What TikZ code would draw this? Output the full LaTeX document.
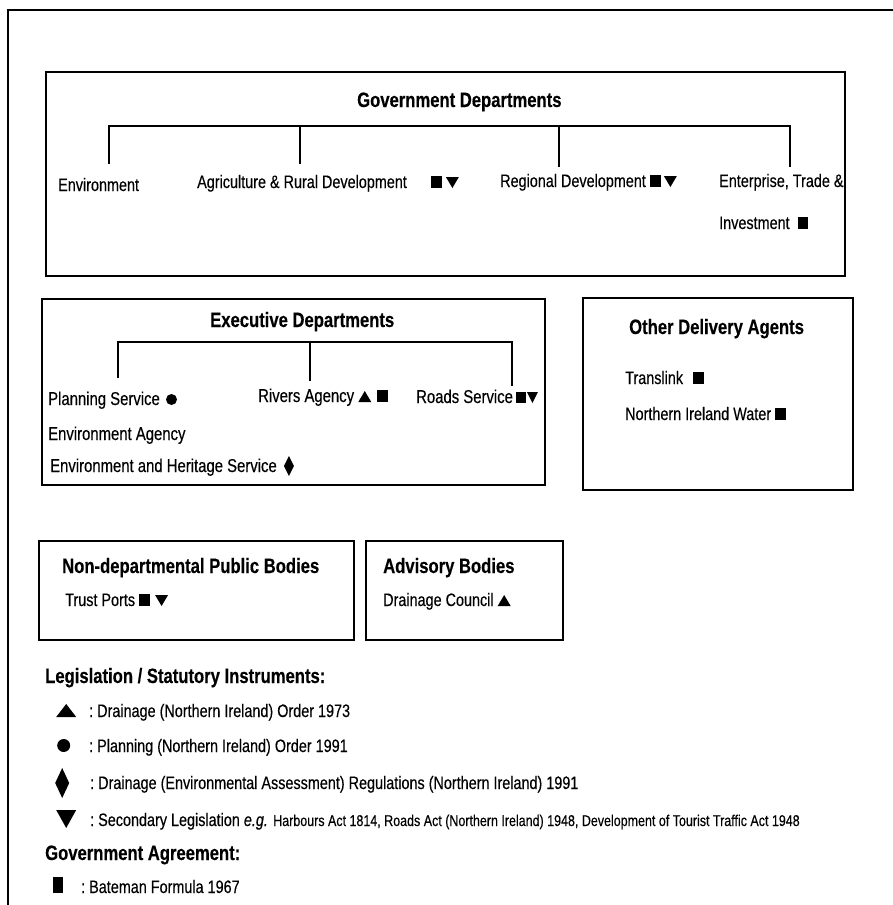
\documentclass[tikz,border=0pt]{standalone}
\usepackage{fontspec}
\setmainfont{Liberation Sans}[FakeStretch=0.80, FakeBold=0.3]

% filled marker glyphs, sized in points, sitting on the baseline
\newcommand\symSq[2]{\tikz[baseline=0pt,x=1pt,y=1pt]\fill (0,0) rectangle (#1,#2);}
\newcommand\symDn[3][0pt]{\tikz[baseline=#1,x=1pt,y=1pt]\fill (0,#3) -- (#2,#3) -- (#2/2,0) -- cycle;}
\newcommand\symUp[2]{\tikz[baseline=0pt,x=1pt,y=1pt]\fill (0,0) -- (#1,0) -- (#1/2,#2) -- cycle;}
\newcommand\symDot[1]{\tikz[baseline=0pt,x=1pt,y=1pt]\fill (#1/2,#1/2) circle (#1/2);}
\newcommand\symDia[3]{\tikz[baseline=#3,x=1pt,y=1pt]\fill (#1/2,0) -- (#1,#2/2) -- (#1/2,#2) -- (0,#2/2) -- cycle;}

\tikzset{
  panel/.style={draw, line width=1.8pt},
  branch/.style={line width=1.8pt},
  frame/.style={line width=1.6pt},
  heading/.style={anchor=base west, inner sep=0pt, font=\fontsize{20.8}{24}\selectfont\bfseries},
  entry/.style={anchor=base west, inner sep=0pt, font=\fontsize{18}{21}\selectfont},
  xentry/.style={entry, font=\fontsize{18.6}{21}\selectfont},
}

\begin{document}
\begin{tikzpicture}[x=1pt,y=-1pt]
\useasboundingbox (0,0) rectangle (893,905);
\fill[white] (0,0) rectangle (893,905);

% surrounding frame, open towards the right and bottom
\coordinate (fBL) at (8,905);
\coordinate (fTL) at (8,10);
\coordinate (fTR) at (893,10);
\draw[frame] (fBL) -- (fTL) -- (fTR);

% ---------- Government Departments ----------
\draw[panel] (46,72) rectangle (845,276);
\node[heading] (gtitle) at (357,107) {Government Departments};
\node[entry] (env) at (58,191) {Environment};
\node[entry] (agr) at (197,188) {Agriculture \& Rural Development\hspace{24pt}\symSq{11}{12}\hspace{4pt}\symDn{13}{11}};
\node[entry] (reg) at (500,187) {Regional Development \symSq{11}{12}\hspace{3pt}\symDn{13}{11}};
\node[entry] (ent) at (719,187) {Enterprise, Trade \&};
\node[entry] (inv) at (719,229) {Investment \hspace{4pt}\symSq{10}{12}};

\coordinate (g1) at (109,126);
\coordinate (g2) at (300,126);
\coordinate (g3) at (559,126);
\coordinate (g4) at (790,126);
\coordinate (e1) at (109,164);
\coordinate (e2) at (300,164);
\coordinate (e3) at (559,167);
\coordinate (e4) at (790,167);
\draw[branch] (e1) -- (g1) -- (g4) -- (e4);
\draw[branch] (g2) -- (e2);
\draw[branch] (g3) -- (e3);

% ---------- Executive Departments ----------
\draw[panel] (42,299) rectangle (545,485);
\node[heading] (xtitle) at (210,327) {Executive Departments};
\node[xentry] (plan) at (48,405) {Planning Service \hspace{2pt}\symDot{11}};
\node[xentry] (riv) at (258,402) {Rivers Agency \symUp{13}{11}\hspace{6pt}\symSq{11}{12}};
\node[xentry] (road) at (416,403) {Roads Service\hspace{3pt}\symSq{10}{11}\hspace{1pt}\symDn{11}{11}};
\node[xentry] (envag) at (48,440) {Environment Agency};
\node[xentry] (ehs) at (50,472) {Environment and Heritage Service \hspace{3pt}\symDia{10}{20}{4pt}};

\coordinate (x1) at (118,342);
\coordinate (x2) at (310,342);
\coordinate (x3) at (512,342);
\coordinate (y1) at (118,378);
\coordinate (y2) at (310,381);
\coordinate (y3) at (512,386);
\draw[branch] (y1) -- (x1) -- (x3) -- (y3);
\draw[branch] (x2) -- (y2);

% ---------- Other Delivery Agents ----------
\draw[panel] (583,298) rectangle (853,490);
\node[heading] (otitle) at (629,334) {Other Delivery Agents};
\node[entry] (tl) at (625,384) {Translink \hspace{6pt}\symSq{11}{12}};
\node[entry] (niw) at (625,420) {Northern Ireland Water \symSq{11}{12}};

% ---------- Non-departmental Public Bodies ----------
\draw[panel] (39,541) rectangle (354,640);
\node[heading] (ntitle) at (62,573) {Non-departmental Public Bodies};
\node[entry] (tp) at (65,606) {Trust Ports \symSq{11}{12}\hspace{5pt}\symDn{13}{11}};

% ---------- Advisory Bodies ----------
\draw[panel] (366,541) rectangle (563,640);
\node[heading] (atitle) at (383,573) {Advisory Bodies};
\node[entry] (dc) at (383,606) {Drainage Council \symUp{13}{11}};

% ---------- Key ----------
\node[heading] (leg) at (45,683) {Legislation / Statutory Instruments:};
\node[entry] (k1) at (56,717) {\makebox[33pt][l]{\symUp{20}{13}}:\hspace{4pt}Drainage (Northern Ireland) Order 1973};
\node[entry] (k2) at (56,752) {\makebox[33pt][l]{\hspace{1pt}\symDot{13}}:\hspace{4pt}Planning (Northern Ireland) Order 1991};
\node[entry] (k3) at (55,789) {\makebox[35pt][l]{\symDia{14}{30}{9pt}}:\hspace{4pt}Drainage (Environmental Assessment) Regulations (Northern Ireland) 1991};
\node[entry] (k4) at (56,826) {\makebox[34pt][l]{\symDn[2pt]{20}{18}}:\hspace{4pt}Secondary Legislation \textit{e.g.} {\fontsize{15.6}{17}\selectfont Harbours Act 1814, Roads Act (Northern Ireland) 1948, Development of Tourist Traffic Act 1948}};

\node[heading] (agree) at (45,860) {Government Agreement:};
\node[entry] (k5) at (53,893) {\makebox[28pt][l]{\symSq{10}{16}}:\hspace{4pt}Bateman Formula 1967};
\end{tikzpicture}
\end{document}
